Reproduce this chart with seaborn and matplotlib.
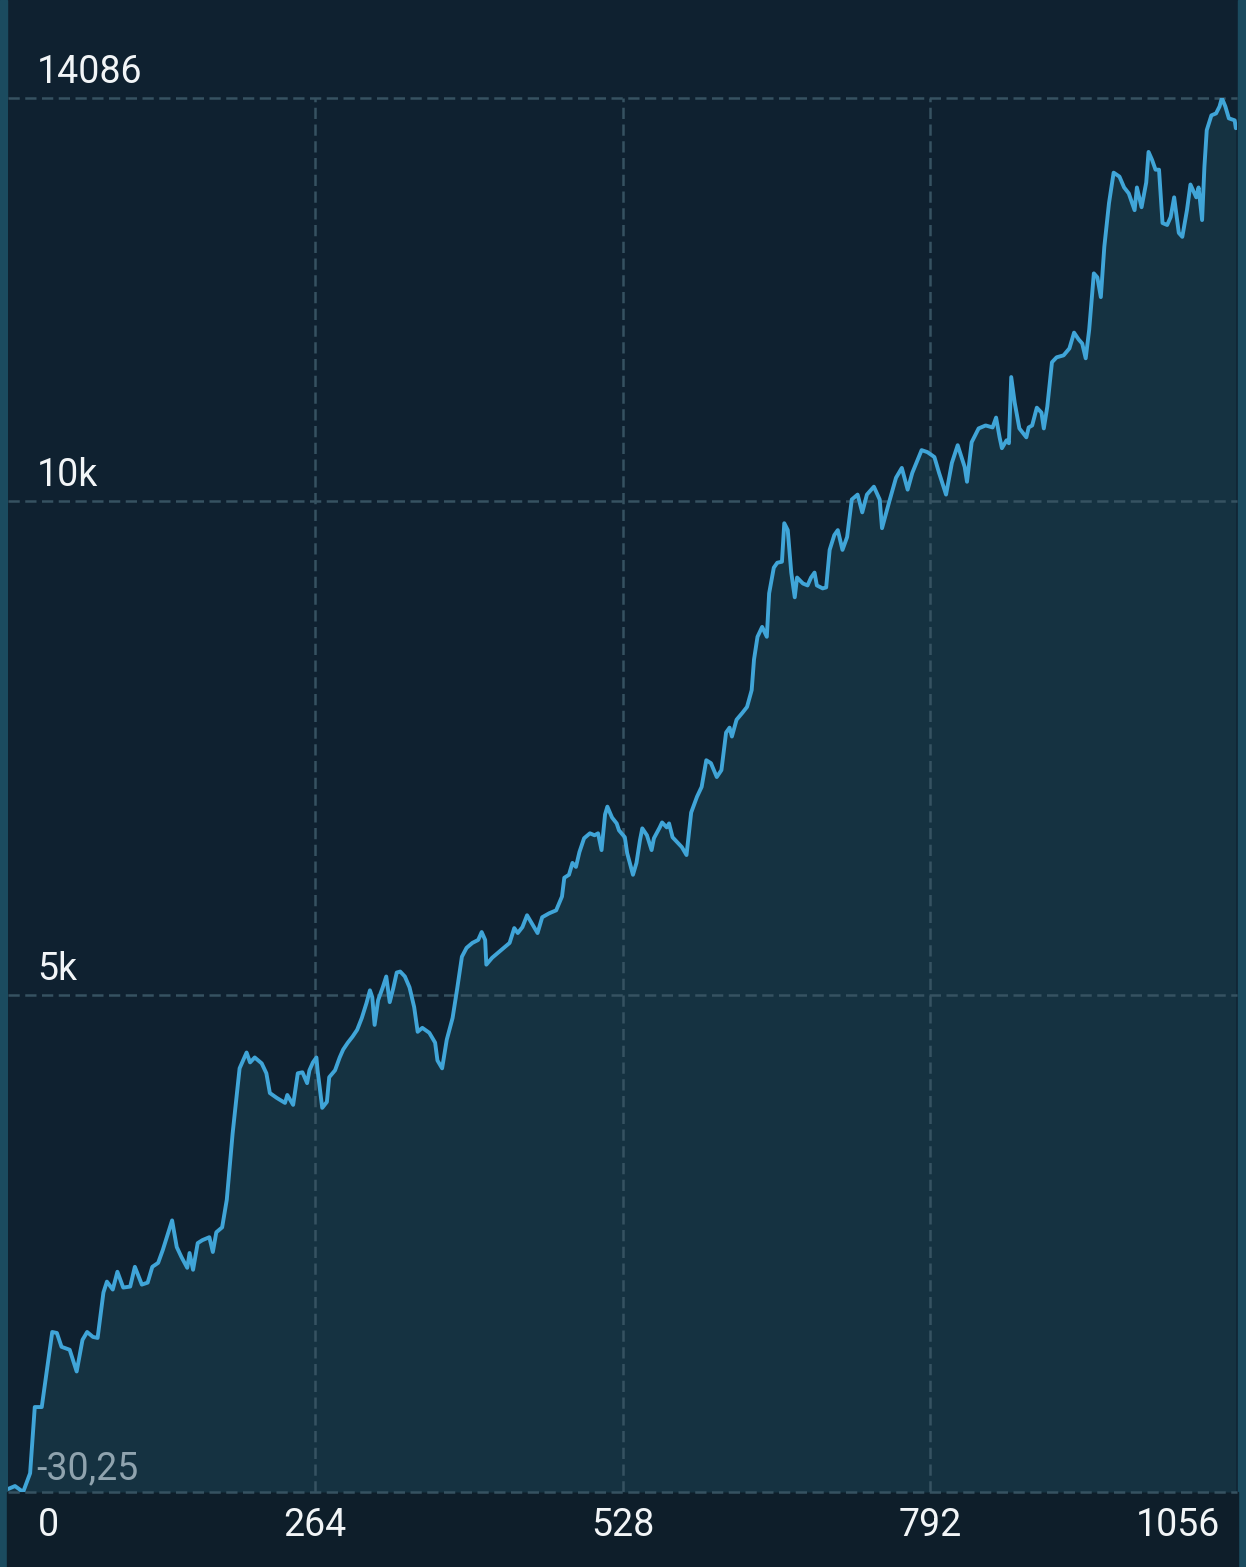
import numpy as np
import pandas as pd
import matplotlib.pyplot as plt
import matplotlib.transforms as mtransforms
from matplotlib.patches import Rectangle
import seaborn as sns

# equity curve (trade number, balance)
trade = [0, 6, 13, 19, 23, 29, 38, 42, 46, 53, 59, 64, 68, 73, 77, 82, 85, 90, 94, 99,
         105, 109, 115, 120, 124, 129, 133, 141, 145, 149, 154, 156, 159, 163, 167, 173, 176, 179, 184, 188,
         193, 199, 205, 208, 212, 218, 222, 225, 231, 238, 240, 245, 249, 253, 257, 259, 262, 265, 266, 270,
         274, 276, 281, 285, 288, 292, 296, 300, 304, 308, 311, 313, 315, 318, 322, 325, 328, 331, 334, 337,
         341, 345, 349, 352, 356, 362, 367, 369, 373, 377, 382, 386, 390, 394, 399, 404, 407, 410, 411, 416,
         424, 431, 435, 438, 442, 446, 451, 455, 459, 465, 471, 476, 478, 482, 485, 488, 491, 495, 500, 504,
         507, 510, 513, 515, 519, 523, 525, 530, 532, 537, 540, 543, 545, 549, 553, 555, 560, 562, 566, 568,
         571, 575, 579, 583, 587, 592, 596, 600, 604, 609, 613, 617, 620, 622, 626, 631, 635, 639, 641, 644,
         648, 652, 654, 658, 661, 665, 667, 670, 673, 676, 678, 683, 687, 690, 693, 695, 700, 703, 706, 710,
         713, 717, 721, 725, 730, 734, 738, 744, 749, 751, 757, 763, 768, 773, 777, 785, 790, 796, 800, 806,
         811, 816, 822, 824, 828, 834, 840, 846, 849, 852, 854, 858, 860, 862, 865, 869, 875, 877, 880, 884,
         888, 890, 893, 897, 901, 907, 912, 916, 920, 923, 926, 929, 933, 936, 939, 942, 946, 950, 955, 959,
         963, 968, 970, 974, 978, 980, 983, 986, 989, 992, 996, 999, 1002, 1006, 1009, 1013, 1016, 1021, 1023, 1026,
         1028, 1030, 1034, 1038, 1041, 1043, 1046, 1049, 1054, 1055]

balance = [0, 30, -30.25, 160, 830, 830, 1590, 1580, 1440, 1410, 1190, 1510, 1590, 1540, 1530, 1990, 2100, 2020, 2200, 2040,
           2050, 2250, 2070, 2090, 2250, 2290, 2420, 2720, 2450, 2350, 2240, 2390, 2220, 2490, 2520, 2550, 2400, 2600, 2650, 2930,
           3600, 4260, 4420, 4320, 4370, 4310, 4210, 4010, 3960, 3910, 3990, 3890, 4210, 4220, 4110, 4240, 4320, 4370, 4240, 3860,
           3920, 4170, 4240, 4370, 4450, 4520, 4580, 4650, 4770, 4920, 5050, 4980, 4700, 4950, 5080, 5190, 4930, 5070, 5230, 5240,
           5190, 5080, 4880, 4630, 4670, 4620, 4520, 4340, 4260, 4550, 4770, 5070, 5390, 5480, 5530, 5560, 5640, 5560, 5310, 5380,
           5460, 5530, 5680, 5630, 5690, 5810, 5710, 5630, 5790, 5830, 5860, 6000, 6190, 6220, 6340, 6300, 6450, 6590, 6640, 6620,
           6640, 6470, 6830, 6910, 6800, 6740, 6670, 6600, 6440, 6220, 6340, 6570, 6690, 6620, 6470, 6590, 6700, 6750, 6700, 6740,
           6600, 6550, 6500, 6420, 6850, 7010, 7110, 7380, 7350, 7210, 7280, 7660, 7710, 7620, 7790, 7860, 7920, 8090, 8400, 8630,
           8730, 8630, 9070, 9330, 9380, 9390, 9780, 9710, 9280, 9030, 9230, 9170, 9150, 9230, 9280, 9150, 9120, 9130, 9510, 9660,
           9710, 9510, 9640, 10020, 10070, 9890, 10070, 10150, 10020, 9730, 9990, 10240, 10340, 10120, 10290, 10520, 10500, 10450, 10290, 10070,
           10390, 10570, 10350, 10200, 10600, 10740, 10770, 10750, 10850, 10650, 10540, 10620, 10590, 11260, 11000, 10740, 10650, 10750, 10770, 10950,
           10900, 10740, 10960, 11410, 11460, 11480, 11550, 11710, 11640, 11600, 11450, 11740, 12310, 12270, 12070, 12580, 13020, 13330, 13290, 13180,
           13120, 12950, 13180, 12980, 13230, 13540, 13460, 13360, 13360, 12820, 12800, 12880, 13080, 12720, 12680, 12950, 13210, 13080, 13180, 12850,
           13390, 13760, 13910, 13930, 14000, 14086, 14000, 13880, 13860, 13780]

x_ticks = [0, 264, 528, 792, 1056]
y_min = -30.25
y_max = 14086
y_marks = [y_max, 10000, 5000]
y_mark_labels = ['14086', '10k', '5k']

df = pd.DataFrame({'trade': trade, 'balance': balance})

bg = '#0f2130'
fill_col = '#153241'
line_col = '#40a5d8'
grid_col = '#365261'

sns.set_theme(style='dark')
plt.rcParams['font.family'] = ['Roboto', 'DejaVu Sans']

fig = plt.figure(figsize=(12.46, 15.67), dpi=100, facecolor=bg)
ax = fig.add_axes([8 / 1246, 75 / 1567, 1229 / 1246, 1394 / 1567])
ax.set_facecolor(bg)

# card edges
fig.add_artist(Rectangle((0, 0), 7 / 1246, 1, transform=fig.transFigure, color='#1b4b5f', zorder=0))
fig.add_artist(Rectangle((1238 / 1246, 0), 8 / 1246, 1, transform=fig.transFigure, color='#1b4b5f', zorder=0))
fig.add_artist(Rectangle((7 / 1246, 0), 1231 / 1246, 75 / 1567, transform=fig.transFigure, color='#0e1e2a', zorder=0))

ax.fill_between(df['trade'], df['balance'], y_min, color=fill_col, lw=0, zorder=1)
sns.lineplot(data=df, x='trade', y='balance', ax=ax, color=line_col, lw=2.8, zorder=3)

ax.set_xlim(0, 1056)
ax.set_ylim(y_min, y_max)
for s in ax.spines.values():
    s.set_visible(False)

for y in [y_min] + y_marks:
    ax.axhline(y, color=grid_col, lw=1.8, ls=(0, (4.5, 2.2)), zorder=2, clip_on=False)
for x in x_ticks[1:-1]:
    ax.axvline(x, color=grid_col, lw=1.8, ls=(0, (4.5, 2.2)), zorder=2)

ax.set_ylabel('')
ax.set_xlabel('')
ax.set_yticks([])
ax.set_xticks(x_ticks)
ax.set_xticklabels([str(t) for t in x_ticks], color='#f2f5f7', fontsize=27)
ax.tick_params(axis='x', length=0, pad=11)
labels = ax.get_xticklabels()
labels[0].set_ha('left')
labels[0].set_transform(labels[0].get_transform() + mtransforms.ScaledTranslation(30 / 100, 0, fig.dpi_scale_trans))
labels[-1].set_ha('right')
labels[-1].set_transform(labels[-1].get_transform() + mtransforms.ScaledTranslation(-17 / 100, 0, fig.dpi_scale_trans))

trans = mtransforms.blended_transform_factory(ax.transAxes, ax.transData)
for y, lab in zip(y_marks, y_mark_labels):
    ax.annotate(lab, (0, y), xycoords=trans, xytext=(21, 11), textcoords='offset points',
                color='#f2f5f7', fontsize=27, ha='left', va='baseline')
ax.annotate('-30,25', (0, y_min), xycoords=trans, xytext=(20, 9), textcoords='offset points',
            color='#8fa3ae', fontsize=27, ha='left', va='baseline', zorder=4)

fig.savefig('out.png', dpi=100, facecolor=bg)
